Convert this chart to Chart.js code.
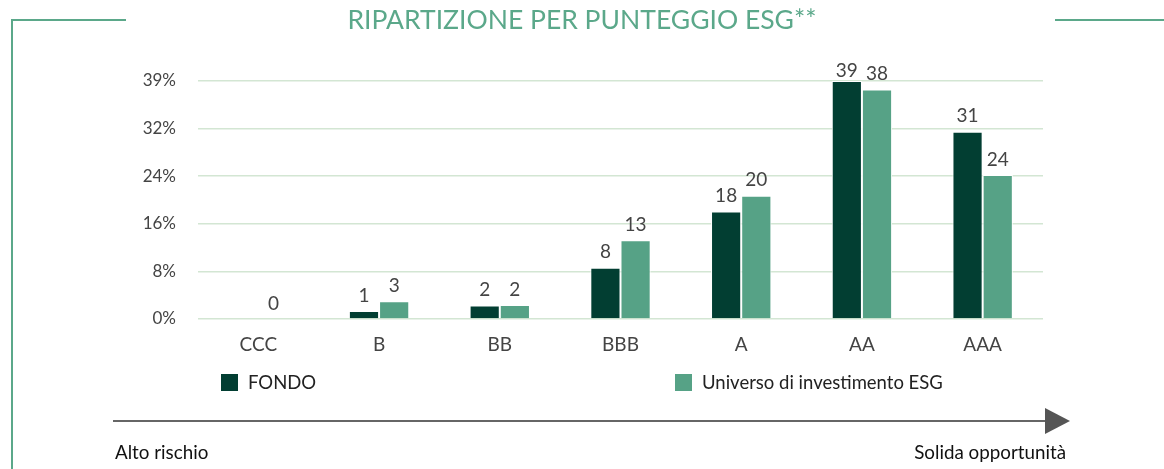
<!DOCTYPE html>
<html>
<head>
<meta charset="utf-8">
<script src="https://cdn.jsdelivr.net/npm/chart.js@4.4.0/dist/chart.umd.min.js"></script>
<style>
  body { margin: 0; background: #fff; font-family: Lato, 'Open Sans', sans-serif; }
  #wrap { position: relative; width: 1164px; height: 469px; overflow: hidden; }
  #myChart { position: absolute; left: 0; top: 0; }
  .line { position: absolute; background: #5ba88a; }
  #title { position: absolute; left: 0; width: 1164px; top: 3px; text-align: center;
           color: #5ba88a; font-size: 26.5px; }
  .leg { position: absolute; top: 371px; font-size: 18.5px; color: #222; }
  .leg span { display: inline-block; width: 17px; height: 17px; vertical-align: -2px; margin-right: 10px; }
  #arrow { position: absolute; left: 113px; top: 420px; width: 934px; height: 2px; background: #666; }
  #head { position: absolute; left: 1045px; top: 408px; width: 0; height: 0;
          border-top: 13px solid transparent; border-bottom: 13px solid transparent; border-left: 25px solid #555; }
  .foot { position: absolute; top: 440px; font-size: 18.8px; color: #111; }
</style>
</head>
<body>
<div id="wrap">
  <canvas id="myChart" width="1164" height="469"></canvas>
  <div class="line" style="left:11px; top:19px; width:115px; height:2px;"></div>
  <div class="line" style="left:11px; top:19px; width:2px; height:460px;"></div>
  <div class="line" style="left:1055px; top:19px; width:109px; height:2px;"></div>
  <div id="title">RIPARTIZIONE PER PUNTEGGIO ESG**</div>
  <div class="leg" style="left:221px;"><span style="background:#023e32;"></span>FONDO</div>
  <div class="leg" style="left:675px;"><span style="background:#56a286;"></span>Universo di investimento ESG</div>
  <div id="arrow"></div>
  <div id="head"></div>
  <div class="foot" style="left:115px;">Alto rischio</div>
  <div class="foot" style="right:98px;">Solida opportunità</div>
</div>
<script>
// ratings and values
const categories = ['CCC', 'B', 'BB', 'BBB', 'A', 'AA', 'AAA'];
const fondoValues = [null, 1.3, 2.2, 8.4, 17.6, 39, 30.7];
const universoValues = [0, 2.9, 2.3, 12.9, 20.2, 37.6, 23.6];
const yTicks = [0, 7.8, 15.6, 23.4, 31.2, 39];
const yTickLabels = ['0%', '8%', '16%', '24%', '32%', '39%'];

// draw the rounded numbers above each bar
const barLabels = {
  id: 'barLabels',
  afterDatasetsDraw(chart) {
    const c = chart.ctx;
    c.save();
    c.font = '19px Lato';
    c.fillStyle = '#444';
    c.textAlign = 'center';
    c.textBaseline = 'bottom';
    chart.data.datasets.forEach((ds, i) => {
      chart.getDatasetMeta(i).data.forEach((bar, j) => {
        if (ds.data[j] === null) return;
        // the top label can't sit too far above the plot
        const y = Math.max(bar.y - 6, chart.chartArea.top - 1);
        c.fillText(Math.round(ds.data[j]), bar.x, y);
      });
    });
    c.restore();
  }
};

const ctx = document.getElementById('myChart').getContext('2d');
const chart = new Chart(ctx, {
  type: 'bar',
  data: {
    labels: categories,
    datasets: [
      { label: 'FONDO', data: fondoValues, backgroundColor: '#023e32', borderColor: '#fff', borderWidth: 1 },
      { label: 'Universo di investimento ESG', data: universoValues, backgroundColor: '#56a286', borderColor: '#fff', borderWidth: 1 }
    ]
  },
  options: {
    responsive: false,
    animation: false,
    layout: { padding: { left: 0, right: 121, top: 81, bottom: 0 } },
    plugins: { legend: { display: false }, tooltip: { enabled: false } },
    datasets: { bar: { categoryPercentage: 0.5, barPercentage: 1 } },
    scales: {
      x: {
        grid: { display: false, drawTicks: false },
        border: { display: false },
        ticks: { color: '#444', font: { family: 'Lato', size: 19 }, padding: 14 },
        afterFit(axis) { axis.height = 150; }
      },
      y: {
        min: 0,
        max: 39,
        afterBuildTicks(axis) { axis.ticks = yTicks.map(v => ({ value: v })); },
        grid: { color: '#d3e6d3', lineWidth: 1.5, drawTicks: false },
        border: { display: false },
        ticks: {
          color: '#444',
          font: { family: 'Lato', size: 17 },
          padding: 22,
          callback: (v, i) => yTickLabels[i]
        },
        afterFit(axis) { axis.width = 198; }
      }
    }
  },
  plugins: [barLabels]
});
</script>
</body>
</html>
